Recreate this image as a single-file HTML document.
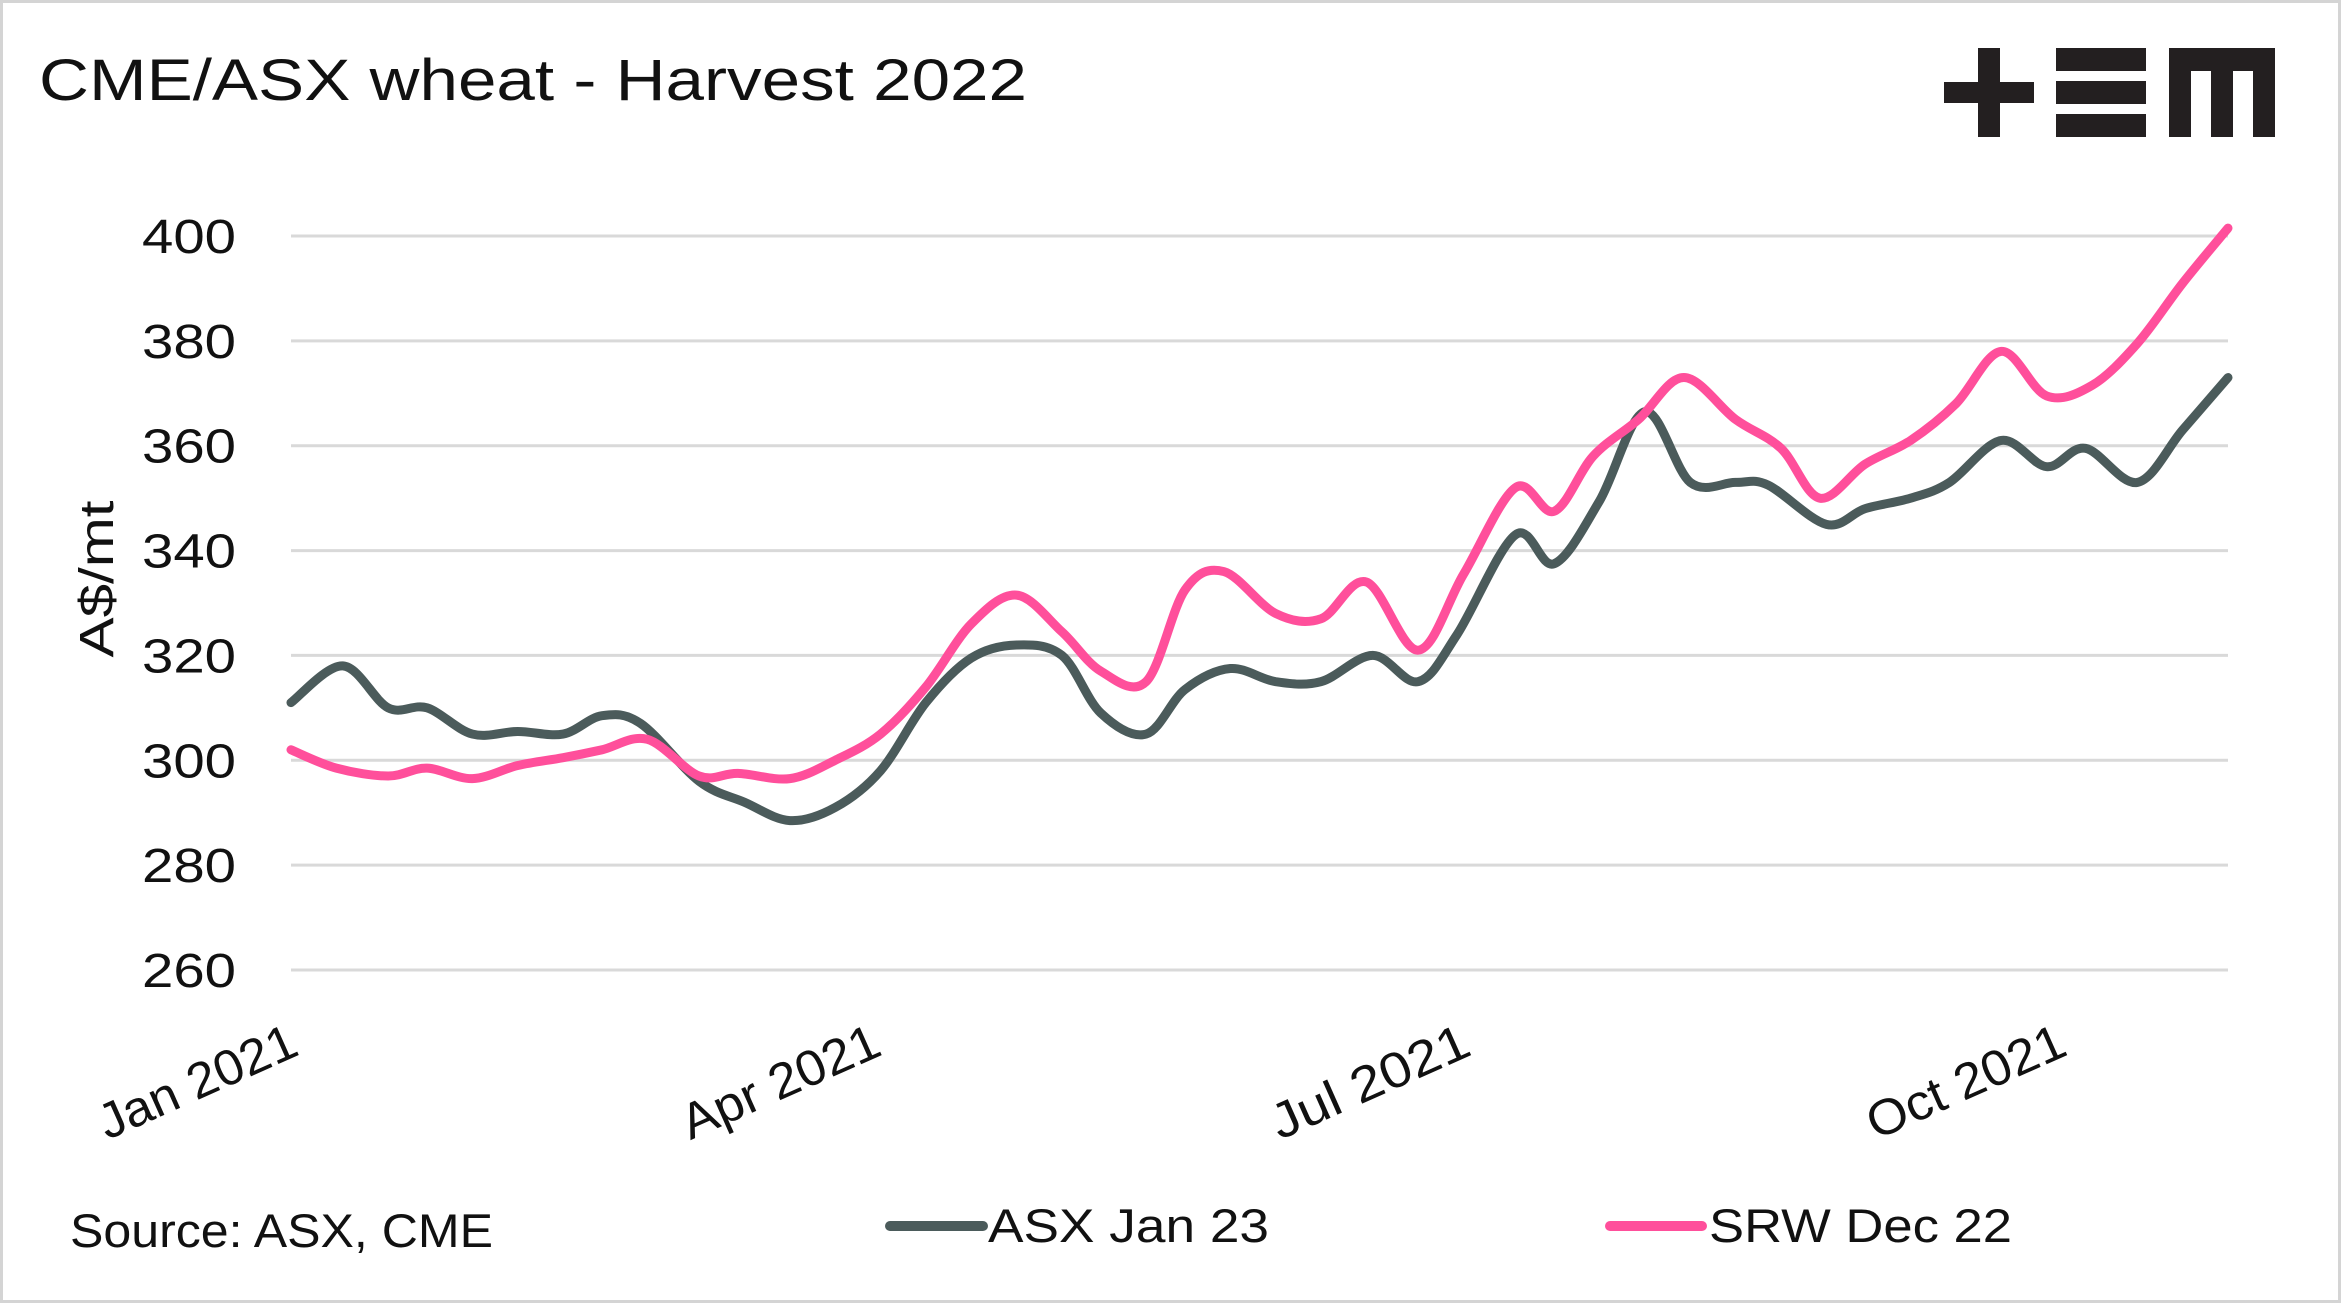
<!DOCTYPE html>
<html><head><meta charset="utf-8"><style>
html,body{margin:0;padding:0;background:#fff}
svg{display:block;font-family:"Liberation Sans",sans-serif}
</style></head><body>
<svg id="chart" width="2341" height="1303" viewBox="0 0 2341 1303">
<rect x="1.5" y="1.5" width="2338" height="1300" fill="#fff" stroke="#d4d4d4" stroke-width="3"/>
<text x="39" y="100" font-size="58" fill="#111" textLength="988" lengthAdjust="spacingAndGlyphs">CME/ASX wheat - Harvest 2022</text>
<g fill="#231f20">
<rect x="1944" y="82" width="90" height="21"/><rect x="1978" y="48" width="22" height="89"/>
<rect x="2056" y="48" width="90" height="23"/><rect x="2056" y="81" width="90" height="23"/><rect x="2056" y="114" width="90" height="23"/>
<rect x="2169" y="48" width="106" height="23"/><rect x="2169" y="48" width="22" height="89"/><rect x="2211" y="48" width="22" height="89"/><rect x="2253" y="48" width="22" height="89"/>
</g>
<g id="grid"></g><g id="yticks"></g><g id="xticks"></g><g id="series"></g>
<text transform="translate(113,579) rotate(-90)" text-anchor="middle" font-size="48" fill="#111" textLength="157" lengthAdjust="spacingAndGlyphs">A$/mt</text>
<text x="70" y="1247" font-size="47" fill="#111" textLength="423" lengthAdjust="spacingAndGlyphs">Source: ASX, CME</text>
<g><line x1="890" y1="1226" x2="983" y2="1226" stroke="#4b5b5b" stroke-width="10" stroke-linecap="round"/><text x="988" y="1242" font-size="47" fill="#111" textLength="281" lengthAdjust="spacingAndGlyphs">ASX Jan 23</text></g>
<g><line x1="1610" y1="1226" x2="1702" y2="1226" stroke="#ff4f9b" stroke-width="10" stroke-linecap="round"/><text x="1709" y="1242" font-size="47" fill="#111" textLength="303" lengthAdjust="spacingAndGlyphs">SRW Dec 22</text></g>
</svg>
<script>
const yTicks=[260,280,300,320,340,360,380,400];
const xTickLabels=["Jan 2021","Apr 2021","Jul 2021","Oct 2021"];
const xTickDays=[0,90,181,273];
const asxDays=[0,8,15,21,28,35,42,48,54,63,70,77,84,91,98,105,112,119,125,132,138,145,152,159,167,174,180,189,195,202,209,216,223,228,237,243,250,256,264,271,277,285,292,299];
const asxValues=[311,318,310,310,305,305.5,305,308.5,307,296,292,288.5,291,298,311,319.5,322,320,309,305,313.5,317.5,315,315,320,315,324,343,337.5,349.5,366.5,353,353,352.5,345,348,350,353,361,356,359.5,353,363,373];
const srwDays=[0,7,15,21,28,35,42,48,55,63,69,77,84,91,98,105,112,119,125,132,138,144,152,159,166,174,181,189,195,201,208,215,223,230,236,243,250,257,264,271,278,285,292,299];
const srwValues=[302,298.5,297,298.5,296.5,299,300.5,302,304,297,297.5,296.5,300,305,314,326,331.5,324.5,317,315,332.5,336,328,327,334,321,335.5,352,347.5,358,365,373,365,359.5,350,356.5,361,368,378,369.5,371.5,379.5,391,401.5];
const X0=291,X1=2228,D1=299,Y0=970,Y1=236,V0=260,V1=400;
const sx=d=>X0+d*(X1-X0)/D1;
const sy=v=>Y0-(v-V0)*(Y0-Y1)/(V1-V0);
const NS="http://www.w3.org/2000/svg";
function mk(tag,attrs,parent){const e=document.createElementNS(NS,tag);for(const k in attrs)e.setAttribute(k,attrs[k]);parent.appendChild(e);return e;}
const grid=document.getElementById('grid'),yt=document.getElementById('yticks'),xt=document.getElementById('xticks'),ser=document.getElementById('series');
yTicks.forEach(v=>{
 const l=mk('line',{x1:X0,x2:X1,y1:sy(v),y2:sy(v),stroke:'#d9d9d9','stroke-width':3},grid);
 
 
 const t=mk('text',{x:236,y:sy(v)+17,'text-anchor':'end','font-size':48,fill:'#111',textLength:94,lengthAdjust:'spacingAndGlyphs'},yt);
 t.textContent=v;
 
 
});
xTickLabels.forEach((s,i)=>{
 const x=sx(xTickDays[i])+10,y=1054;
 const t=mk('text',{x:x,y:y,'text-anchor':'end','font-size':50,fill:'#111',textLength:212,lengthAdjust:'spacingAndGlyphs',transform:`rotate(-24 ${x} ${y})`},xt);
 t.textContent=s;
 
 
});
function pathD(days,vals){
 const p=days.map((d,i)=>[sx(d),sy(vals[i])]);
 let d=`M${p[0][0]},${p[0][1]}`;
 for(let i=0;i<p.length-1;i++){
  const a=p[i-1]||p[i],b=p[i],c=p[i+1],e=p[i+2]||c;
  const c1=[b[0]+(c[0]-a[0])/6,b[1]+(c[1]-a[1])/6],c2=[c[0]-(e[0]-b[0])/6,c[1]-(e[1]-b[1])/6];
  d+=` C${c1[0]},${c1[1]} ${c2[0]},${c2[1]} ${c[0]},${c[1]}`;
 }
 return d;
}
const asx=mk('path',{d:pathD(asxDays,asxValues),fill:'none',stroke:'#4b5b5b','stroke-width':9,'stroke-linejoin':'round','stroke-linecap':'round'},ser);


const srw=mk('path',{d:pathD(srwDays,srwValues),fill:'none',stroke:'#ff4f9b','stroke-width':9,'stroke-linejoin':'round','stroke-linecap':'round'},ser);


</script>
</body></html>
